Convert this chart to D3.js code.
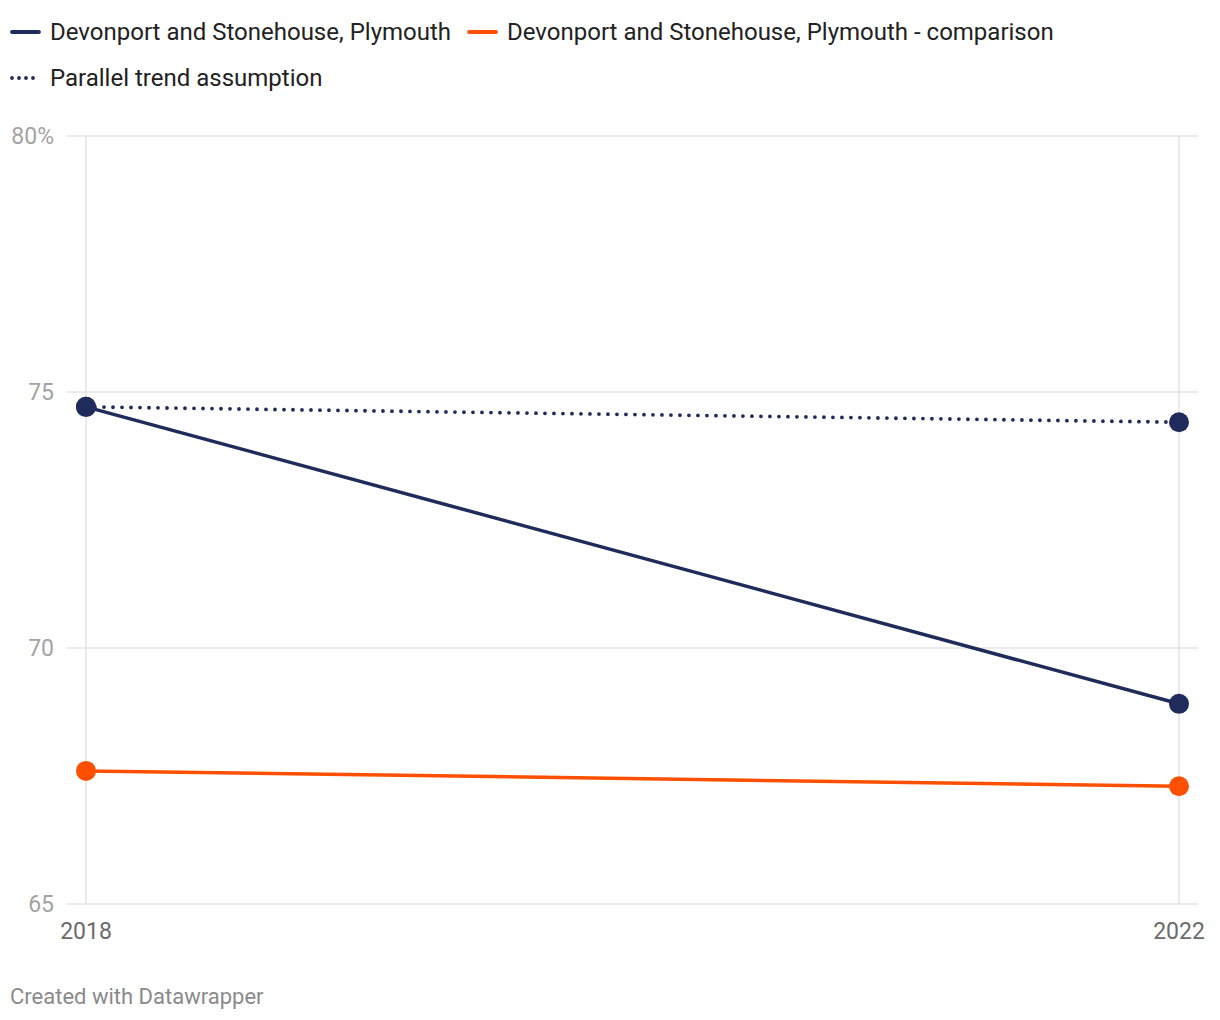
<!DOCTYPE html>
<html><head><meta charset="utf-8">
<script src="https://cdn.jsdelivr.net/npm/d3@7"></script>
<style>body{margin:0;background:#fff;font-family:Roboto,sans-serif}</style>
</head><body><svg id="c" width="1220" height="1020"></svg>
<script>
const years = [2018, 2022];
const mainSeries = [74.71, 68.91];
const comparison = [67.60, 67.30];
const parallel = [74.71, 74.41];
const yTicks = [65, 70, 75, 80];
const seriesNames = ["Devonport and Stonehouse, Plymouth", "Devonport and Stonehouse, Plymouth - comparison", "Parallel trend assumption"];
const navy = "#1f2b5a", orange = "#ff4f00";

const svg = d3.select("#c");
const x = d3.scaleLinear().domain([2018, 2022]).range([86, 1179]);
const y = d3.scaleLinear().domain([65, 80]).range([904, 136]);

svg.append("g").selectAll("line").data(yTicks).join("line")
  .attr("x1", 67).attr("x2", 1198).attr("y1", d => y(d)).attr("y2", d => y(d))
  .attr("stroke", "#e3e3e3").attr("stroke-width", 1.5);
svg.append("g").selectAll("line").data(years).join("line")
  .attr("x1", d => x(d)).attr("x2", d => x(d)).attr("y1", y(80)).attr("y2", y(65))
  .attr("stroke", "#e3e3e3").attr("stroke-width", 1.5);

svg.append("g").selectAll("text").data(yTicks).join("text")
  .attr("x", 54).attr("y", d => y(d) + 8).attr("text-anchor", "end")
  .attr("font-size", 23).attr("fill", "#a3a3a3")
  .text(d => d === 80 ? "80%" : d);

svg.append("g").selectAll("text").data(years).join("text")
  .attr("x", d => x(d)).attr("y", 939).attr("text-anchor", "middle")
  .attr("font-size", 23).attr("fill", "#6b6b6b").text(d => d);

const line = d3.line().x((d, i) => x(years[i])).y(d => y(d));
svg.append("path").attr("d", line(parallel)).attr("fill", "none")
  .attr("stroke", navy).attr("stroke-width", 3.8).attr("stroke-dasharray", "0,9").attr("stroke-linecap", "round");
svg.append("path").attr("d", line(comparison)).attr("fill", "none").attr("stroke", orange).attr("stroke-width", 3.5);
svg.append("path").attr("d", line(mainSeries)).attr("fill", "none").attr("stroke", navy).attr("stroke-width", 3.5);

function dots(data, col) {
  svg.append("g").selectAll("circle").data(data.map((v, i) => ({v, yr: years[i]}))).join("circle")
    .attr("cx", d => x(d.yr)).attr("cy", d => y(d.v)).attr("r", 10).attr("fill", col);
}
dots(comparison, orange);
dots(parallel, navy);
dots(mainSeries, navy);

const lg = svg.append("g");
const items = [
  {x: 10, y: 32, col: navy, dash: null, name: seriesNames[0]},
  {x: 467, y: 32, col: orange, dash: null, name: seriesNames[1]},
  {x: 10, y: 78, col: navy, dash: "0,7", name: seriesNames[2]}
];
items.forEach(it => {
  lg.append("line").attr("x1", it.x + 2).attr("x2", it.x + 29).attr("y1", it.y).attr("y2", it.y)
    .attr("stroke", it.col).attr("stroke-width", 3.8).attr("stroke-linecap", "round")
    .attr("stroke-dasharray", it.dash);
  lg.append("text").attr("x", it.x + 40).attr("y", it.y + 8).attr("font-size", 24).attr("fill", "#222").text(it.name);
});

svg.append("text").attr("x", 10).attr("y", 1004).attr("font-size", 22).attr("fill", "#8a8a8a").text("Created with Datawrapper");
</script></body></html>
